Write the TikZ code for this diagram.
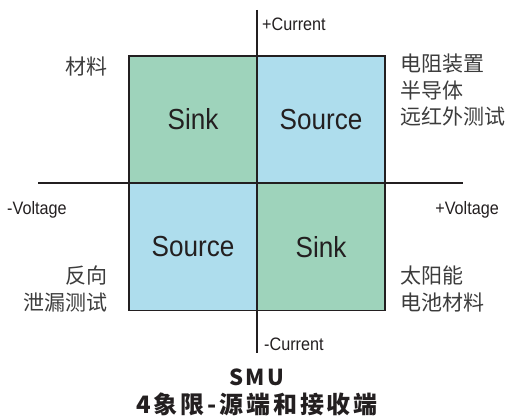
\documentclass[tikz,border=0pt]{standalone}
\usepackage{fontspec}
\newfontfamily\latfont{Liberation Sans}[FakeStretch=0.9]
\newfontfamily\cjk{Noto Sans CJK SC}
\newfontfamily\cjktitle{Noto Sans CJK SC}[LetterSpace=12]
\definecolor{sinkgreen}{HTML}{9ED3BB}
\definecolor{sourceblue}{HTML}{AEDDED}
\definecolor{inkdark}{HTML}{231F20}
\definecolor{inkgray}{HTML}{3C3C3C}
\tikzset{
  quad/.style={draw=inkdark, line width=1.2pt, minimum width=128pt, minimum height=127pt,
    inner sep=0pt, font=\latfont\fontsize{29}{30}\selectfont, text=inkdark},
  axis/.style={draw=inkdark, line width=1.4pt},
  axlabel/.style={inner sep=0pt, font=\latfont\fontsize{18}{20}\selectfont, text=inkdark},
  applabel/.style={inner sep=0pt, font=\cjk\fontsize{21}{26.5}\selectfont, text=inkgray},
}
\begin{document}
\begin{tikzpicture}[x=1pt,y=-1pt]
\useasboundingbox (0,0) rectangle (511,419);
% quadrants
\node[quad, fill=sinkgreen] (sinkup) at (193,119.5) {Sink};
\node[quad, fill=sourceblue] (sourceup) at (321,119.5) {Source};
\node[quad, fill=sourceblue] (sourcedown) at (193,247) {Source};
\node[quad, fill=sinkgreen] (sinkdown) at (321,247) {Sink};
% axes
\coordinate (itop) at (257,10);
\coordinate (ibot) at (257,353);
\coordinate (vleft) at (38,183);
\coordinate (vright) at (463,183);
\draw[axis] (itop) -- (ibot);
\draw[axis] (vleft) -- (vright);
% axis labels
\node[axlabel, anchor=west] (ipos) at (262,24) {+Current};
\node[axlabel, anchor=west] (ineg) at (264,344) {-Current};
\node[axlabel, anchor=west] (vneg) at (7,210) {-Voltage};
\node[axlabel, anchor=east] (vpos) at (499,210) {+Voltage};
% applications
\node[applabel, anchor=east] (appul) at (108,67) {材料};
\node[applabel, anchor=north west, align=left] (appur) at (400,54) {电阻装置\\半导体\\远红外测试};
\node[applabel, anchor=east, align=right] (appll) at (108,289) {反向\\泄漏测试};
\node[applabel, anchor=west, align=left] (applr) at (400,289) {太阳能\\电池材料};
% title
\node[inner sep=0pt, font=\cjktitle\bfseries\fontsize{22}{24}\selectfont, text=inkdark] (smu) at (257,377) {SMU};
\node[inner sep=0pt, font=\cjktitle\bfseries\fontsize{24}{26}\selectfont, text=inkdark] (smutitle) at (257,404) {4象限-源端和接收端};
\end{tikzpicture}
\end{document}
